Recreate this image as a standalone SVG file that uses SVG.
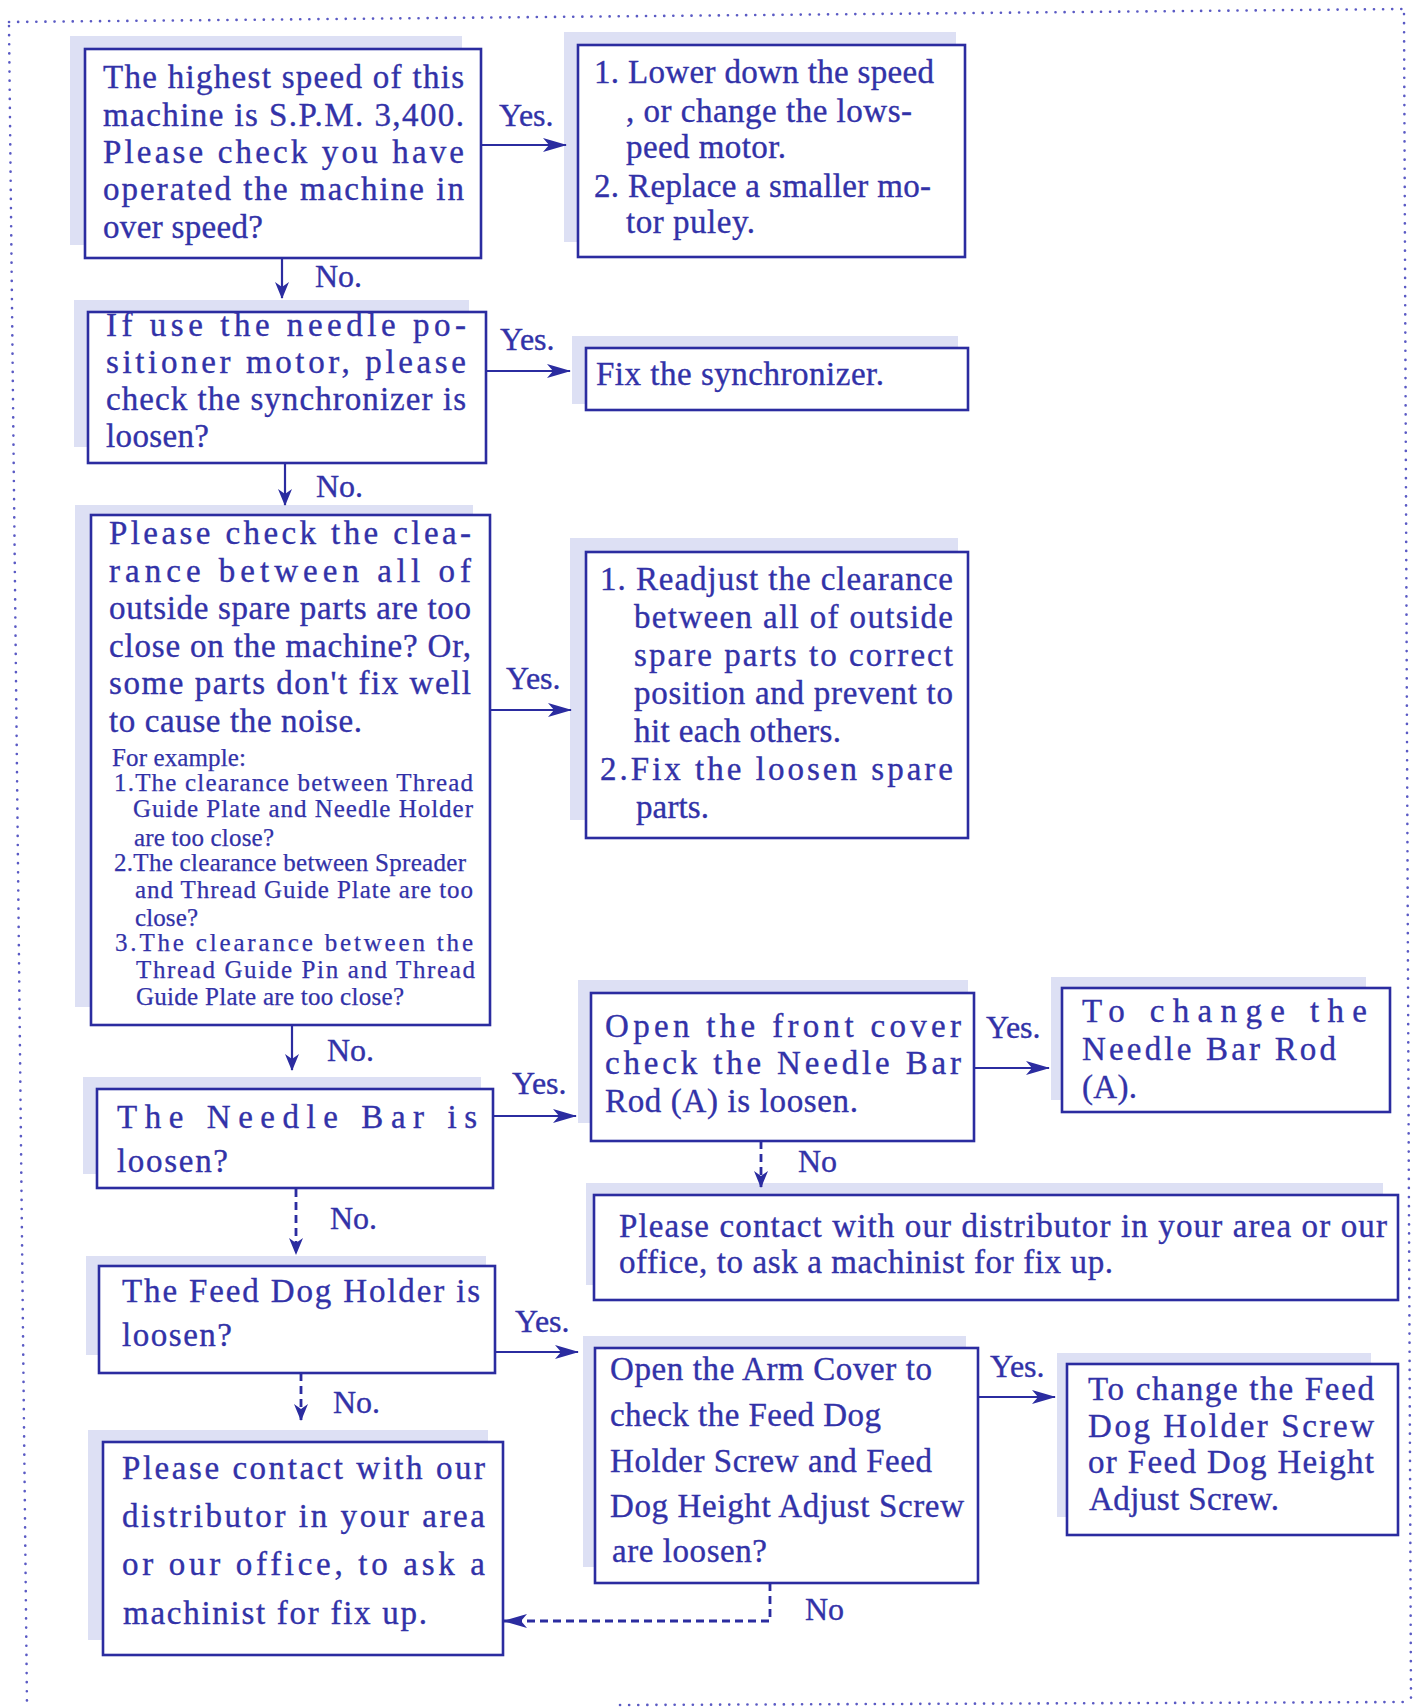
<svg xmlns="http://www.w3.org/2000/svg" width="1415" height="1708" viewBox="0 0 1415 1708">
<defs>
<style>
.shade{fill:#dde0f4;stroke:none}
.box{fill:#ffffff;stroke:#2b2ca0;stroke-width:2.6}
text{font-family:"Liberation Serif","Times New Roman",serif;fill:#3232a8;stroke:#3232a8;stroke-width:0.35;font-size:33px}
.sm{font-size:25px;stroke-width:0.25}
.lbl{font-size:32px}
.ln{stroke:#2b2ca0;stroke-width:2.2;fill:none}
.dash{stroke:#2b2ca0;stroke-width:2.8;fill:none;stroke-dasharray:8 5}
.dot{stroke:#5a5ac4;stroke-width:2.6;stroke-linecap:round;stroke-dasharray:0.1 9;fill:none}
</style>
<marker id="ah" viewBox="0 0 24 14" refX="23" refY="7" markerWidth="24" markerHeight="14" markerUnits="userSpaceOnUse" orient="auto">
<path d="M0,0 L24,7 L0,14 L6,7 Z" fill="#2b2ca0"/>
</marker>
<marker id="ahs" viewBox="0 0 17 14" refX="16" refY="7" markerWidth="17" markerHeight="14" markerUnits="userSpaceOnUse" orient="auto">
<path d="M0,0 L17,7 L0,14 L5,7 Z" fill="#2b2ca0"/>
</marker>
</defs>
<rect width="1415" height="1708" fill="#ffffff"/>
<g id="border">
<path class="dot" d="M9,22 L1402,9"/>
<path class="dot" d="M1404,14 L1411,1700"/>
<path class="dot" d="M9,26 L27,1706"/>
<path class="dot" d="M620,1705 L1411,1702"/>
</g>

<g id="n1">
<rect class="shade" x="70" y="36" width="392" height="209"/>
<rect class="box" x="85" y="49" width="396" height="209"/>
<text x="103" y="88" textLength="361" lengthAdjust="spacing">The highest speed of this</text>
<text x="103" y="126" textLength="361" lengthAdjust="spacing">machine is S.P.M. 3,400.</text>
<text x="103" y="163" textLength="361" lengthAdjust="spacing">Please check you have</text>
<text x="103" y="200" textLength="361" lengthAdjust="spacing">operated the machine in</text>
<text x="103" y="238" textLength="160" lengthAdjust="spacing">over speed?</text>
</g>

<g id="n2">
<rect class="shade" x="564" y="32" width="392" height="210"/>
<rect class="box" x="578" y="45" width="387" height="212"/>
<text x="594" y="83" textLength="340" lengthAdjust="spacing">1. Lower down the speed</text>
<text x="626" y="122" textLength="286" lengthAdjust="spacing">, or change the lows-</text>
<text x="626" y="158" textLength="160" lengthAdjust="spacing">peed motor.</text>
<text x="594" y="197" textLength="337" lengthAdjust="spacing">2. Replace a smaller mo-</text>
<text x="626" y="233" textLength="129" lengthAdjust="spacing">tor puley.</text>
</g>

<g id="n3">
<rect class="shade" x="74" y="300" width="395" height="147"/>
<rect class="box" x="88" y="312" width="398" height="151"/>
<text x="106" y="336" textLength="360" lengthAdjust="spacing">If use the needle po-</text>
<text x="106" y="373" textLength="360" lengthAdjust="spacing">sitioner motor, please</text>
<text x="106" y="410" textLength="360" lengthAdjust="spacing">check the synchronizer is</text>
<text x="106" y="447" textLength="103" lengthAdjust="spacing">loosen?</text>
</g>

<g id="n4">
<rect class="shade" x="572" y="336" width="386" height="68"/>
<rect class="box" x="586" y="348" width="382" height="62"/>
<text x="596" y="385" textLength="288" lengthAdjust="spacing">Fix the synchronizer.</text>
</g>

<g id="n5">
<rect class="shade" x="75" y="505" width="398" height="502"/>
<rect class="box" x="91" y="515" width="399" height="510"/>
<text x="109" y="544" textLength="362" lengthAdjust="spacing">Please check the clea-</text>
<text x="109" y="582" textLength="362" lengthAdjust="spacing">rance between all of</text>
<text x="109" y="619" textLength="362" lengthAdjust="spacing">outside spare parts are too</text>
<text x="109" y="657" textLength="362" lengthAdjust="spacing">close on the machine? Or,</text>
<text x="109" y="694" textLength="362" lengthAdjust="spacing">some parts don't fix well</text>
<text x="109" y="732" textLength="253" lengthAdjust="spacing">to cause the noise.</text>
<text class="sm" x="112" y="766" textLength="134" lengthAdjust="spacing">For example:</text>
<text class="sm" x="114" y="791" textLength="359" lengthAdjust="spacing">1.The clearance between Thread</text>
<text class="sm" x="133" y="817" textLength="340" lengthAdjust="spacing">Guide Plate and Needle Holder</text>
<text class="sm" x="134" y="846" textLength="140" lengthAdjust="spacing">are too close?</text>
<text class="sm" x="114" y="871" textLength="352" lengthAdjust="spacing">2.The clearance between Spreader</text>
<text class="sm" x="135" y="898" textLength="338" lengthAdjust="spacing">and Thread Guide Plate are too</text>
<text class="sm" x="135" y="926" textLength="63" lengthAdjust="spacing">close?</text>
<text class="sm" x="115" y="951" textLength="358" lengthAdjust="spacing">3.The clearance between the</text>
<text class="sm" x="136" y="978" textLength="339" lengthAdjust="spacing">Thread Guide Pin and Thread</text>
<text class="sm" x="136" y="1005" textLength="268" lengthAdjust="spacing">Guide Plate are too close?</text>
</g>

<g id="n6">
<rect class="shade" x="570" y="538" width="388" height="282"/>
<rect class="box" x="586" y="552" width="382" height="286"/>
<text x="600" y="590" textLength="353" lengthAdjust="spacing">1. Readjust the clearance</text>
<text x="634" y="628" textLength="319" lengthAdjust="spacing">between all of outside</text>
<text x="634" y="666" textLength="319" lengthAdjust="spacing">spare parts to correct</text>
<text x="634" y="704" textLength="319" lengthAdjust="spacing">position and prevent to</text>
<text x="634" y="742" textLength="207" lengthAdjust="spacing">hit each others.</text>
<text x="600" y="780" textLength="353" lengthAdjust="spacing">2.Fix the loosen spare</text>
<text x="636" y="818" textLength="73" lengthAdjust="spacing">parts.</text>
</g>

<g id="n7">
<rect class="shade" x="83" y="1077" width="398" height="97"/>
<rect class="box" x="97" y="1089" width="396" height="99"/>
<text x="117" y="1128" textLength="360" lengthAdjust="spacing">The Needle Bar is</text>
<text x="117" y="1172" textLength="111" lengthAdjust="spacing">loosen?</text>
</g>

<g id="n8">
<rect class="shade" x="578" y="980" width="390" height="143"/>
<rect class="box" x="591" y="993" width="383" height="148"/>
<text x="605" y="1037" textLength="356" lengthAdjust="spacing">Open the front cover</text>
<text x="605" y="1074" textLength="356" lengthAdjust="spacing">check the Needle Bar</text>
<text x="605" y="1112" textLength="253" lengthAdjust="spacing">Rod (A) is loosen.</text>
</g>

<g id="n9">
<rect class="shade" x="1051" y="977" width="315" height="123"/>
<rect class="box" x="1062" y="988" width="328" height="124"/>
<text x="1082" y="1022" textLength="285" lengthAdjust="spacing">To change the</text>
<text x="1082" y="1060" textLength="254" lengthAdjust="spacing">Needle Bar Rod</text>
<text x="1082" y="1098" textLength="55" lengthAdjust="spacing">(A).</text>
</g>

<g id="n10">
<rect class="shade" x="586" y="1183" width="797" height="102"/>
<rect class="box" x="594" y="1195" width="804" height="105"/>
<text x="619" y="1237" textLength="768" lengthAdjust="spacing">Please contact with our distributor in your area or our</text>
<text x="619" y="1273" textLength="494" lengthAdjust="spacing">office, to ask a machinist for fix up.</text>
</g>

<g id="n11">
<rect class="shade" x="86" y="1256" width="400" height="99"/>
<rect class="box" x="99" y="1266" width="396" height="107"/>
<text x="122" y="1302" textLength="358" lengthAdjust="spacing">The Feed Dog Holder is</text>
<text x="122" y="1346" textLength="110" lengthAdjust="spacing">loosen?</text>
</g>

<g id="n12">
<rect class="shade" x="583" y="1336" width="383" height="231"/>
<rect class="box" x="595" y="1348" width="383" height="235"/>
<text x="610" y="1380" textLength="322" lengthAdjust="spacing">Open the Arm Cover to</text>
<text x="610" y="1426" textLength="271" lengthAdjust="spacing">check the Feed Dog</text>
<text x="610" y="1472" textLength="322" lengthAdjust="spacing">Holder Screw and Feed</text>
<text x="610" y="1517" textLength="354" lengthAdjust="spacing">Dog Height Adjust Screw</text>
<text x="612" y="1562" textLength="155" lengthAdjust="spacing">are loosen?</text>
</g>

<g id="n13">
<rect class="shade" x="1057" y="1353" width="314" height="164"/>
<rect class="box" x="1067" y="1364" width="331" height="171"/>
<text x="1088" y="1400" textLength="286" lengthAdjust="spacing">To change the Feed</text>
<text x="1088" y="1437" textLength="286" lengthAdjust="spacing">Dog Holder Screw</text>
<text x="1088" y="1473" textLength="286" lengthAdjust="spacing">or Feed Dog Height</text>
<text x="1089" y="1510" textLength="190" lengthAdjust="spacing">Adjust Screw.</text>
</g>

<g id="n14">
<rect class="shade" x="88" y="1430" width="400" height="210"/>
<rect class="box" x="103" y="1442" width="400" height="213"/>
<text x="122" y="1479" textLength="363" lengthAdjust="spacing">Please contact with our</text>
<text x="122" y="1527" textLength="363" lengthAdjust="spacing">distributor in your area</text>
<text x="122" y="1575" textLength="363" lengthAdjust="spacing">or our office, to ask a</text>
<text x="123" y="1624" textLength="304" lengthAdjust="spacing">machinist for fix up.</text>
</g>

<g id="connectors">
<path class="ln" d="M481,145 H566" marker-end="url(#ah)"/>
<path class="ln" d="M486,371 H570" marker-end="url(#ah)"/>
<path class="ln" d="M490,710 H571" marker-end="url(#ah)"/>
<path class="ln" d="M493,1116 H576" marker-end="url(#ah)"/>
<path class="ln" d="M974,1068 H1049" marker-end="url(#ah)"/>
<path class="ln" d="M495,1352 H578" marker-end="url(#ah)"/>
<path class="ln" d="M978,1397 H1055" marker-end="url(#ah)"/>
<path class="ln" d="M282,258 V298" marker-end="url(#ahs)"/>
<path class="ln" d="M285,463 V505" marker-end="url(#ahs)"/>
<path class="ln" d="M292,1025 V1070" marker-end="url(#ahs)"/>
<path class="dash" d="M296,1189 V1254" marker-end="url(#ahs)"/>
<path class="dash" d="M761,1141 V1187" marker-end="url(#ahs)"/>
<path class="dash" d="M301,1373 V1420" marker-end="url(#ahs)"/>
<path class="dash" d="M770,1583 V1621 H504" marker-end="url(#ah)"/>
<text class="lbl" x="499" y="126">Yes.</text>
<text class="lbl" x="500" y="350">Yes.</text>
<text class="lbl" x="506" y="689">Yes.</text>
<text class="lbl" x="512" y="1094">Yes.</text>
<text class="lbl" x="986" y="1038">Yes.</text>
<text class="lbl" x="515" y="1332">Yes.</text>
<text class="lbl" x="990" y="1377">Yes.</text>
<text class="lbl" x="315" y="287">No.</text>
<text class="lbl" x="316" y="497">No.</text>
<text class="lbl" x="327" y="1061">No.</text>
<text class="lbl" x="330" y="1229">No.</text>
<text class="lbl" x="798" y="1172">No</text>
<text class="lbl" x="333" y="1413">No.</text>
<text class="lbl" x="805" y="1620">No</text>
</g>
</svg>
